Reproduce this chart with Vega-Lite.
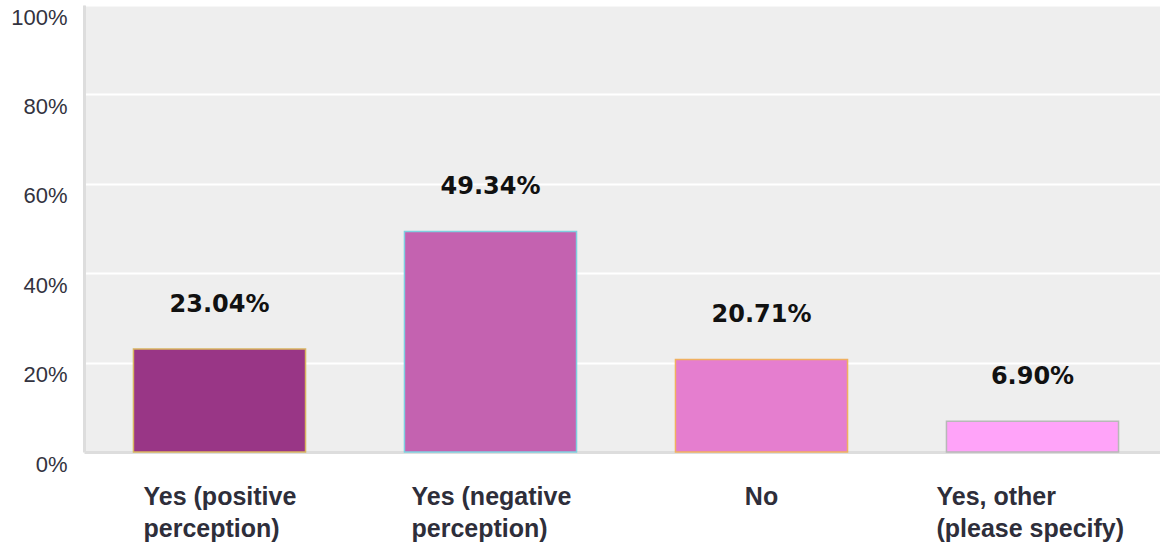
{
  "$schema": "https://vega.github.io/schema/vega-lite/v6.json",
  "autosize": "none",
  "padding": {"left": 84, "top": 5, "right": 0, "bottom": 94},
  "width": 1084,
  "height": 447,
  "background": "white",
  "view": {"fill": "#eeeeee", "stroke": null},
  "data": {"values": [
    {"answer": "Yes (positive perception)", "share": 0.2304},
    {"answer": "Yes (negative perception)", "share": 0.4934},
    {"answer": "No", "share": 0.2071},
    {"answer": "Yes, other (please specify)", "share": 0.069}
  ]},
  "encoding": {
    "x": {
      "field": "answer", "type": "nominal", "sort": null,
      "scale": {"paddingInner": 0.365, "paddingOuter": 0.1825},
      "axis": {
        "title": null, "labelAngle": 0, "ticks": false, "labelLimit": 400,
        "domainColor": "#dddddd", "domainWidth": 3,
        "labelFont": "Liberation Sans", "labelFontWeight": "bold", "labelFontSize": 25,
        "labelColor": "#2e2e3a", "labelBaseline": "top", "labelPadding": 32,
        "labelLineHeight": 32,
        "labelAlign": {"condition": {"test": "datum.value == 'No'", "value": "center"}, "value": "left"},
        "labelOffset": {"condition": [
          {"test": "datum.value == 'Yes (positive perception)'", "value": -76},
          {"test": "datum.value == 'Yes (negative perception)'", "value": -79},
          {"test": "datum.value == 'Yes, other (please specify)'", "value": -96}
        ], "value": 0},
        "labelExpr": "datum.label == 'Yes (positive perception)' ? ['Yes (positive', 'perception)'] : datum.label == 'Yes (negative perception)' ? ['Yes (negative', 'perception)'] : datum.label == 'Yes, other (please specify)' ? ['Yes, other', '(please specify)'] : datum.label"
      }
    },
    "y": {
      "field": "share", "type": "quantitative",
      "scale": {"domain": [0, 1], "nice": false},
      "axis": {
        "title": null, "values": [0, 0.2, 0.4, 0.6, 0.8, 1], "format": ".0%",
        "ticks": false, "domainColor": "#dddddd", "domainWidth": 3,
        "gridColor": "#ffffff", "gridWidth": 2, "gridOpacity": 1,
        "labelFont": "Liberation Sans", "labelFontSize": 22, "labelColor": "#333340",
        "labelPadding": 17, "labelOffset": 12, "labelBaseline": "middle"
      }
    }
  },
  "layer": [
    {
      "mark": {"type": "bar", "strokeWidth": 1.5},
      "encoding": {
        "color": {"field": "answer", "type": "nominal", "legend": null,
          "scale": {"domain": ["Yes (positive perception)", "Yes (negative perception)", "No", "Yes, other (please specify)"],
                    "range": ["#993686", "#c462b0", "#e57ecf", "#ffa3f9"]}},
        "stroke": {"field": "answer", "type": "nominal", "legend": null,
          "scale": {"domain": ["Yes (positive perception)", "Yes (negative perception)", "No", "Yes, other (please specify)"],
                    "range": ["#d8b460", "#7fcfe0", "#f0b060", "#b8b8b8"]}}
      }
    },
    {
      "mark": {"type": "text", "dy": -44, "baseline": "middle", "font": "DejaVu Sans", "fontWeight": "bold", "fontSize": 24, "color": "#111111"},
      "encoding": {
        "text": {"field": "share", "type": "quantitative", "format": ".2%"}
      }
    }
  ]
}
